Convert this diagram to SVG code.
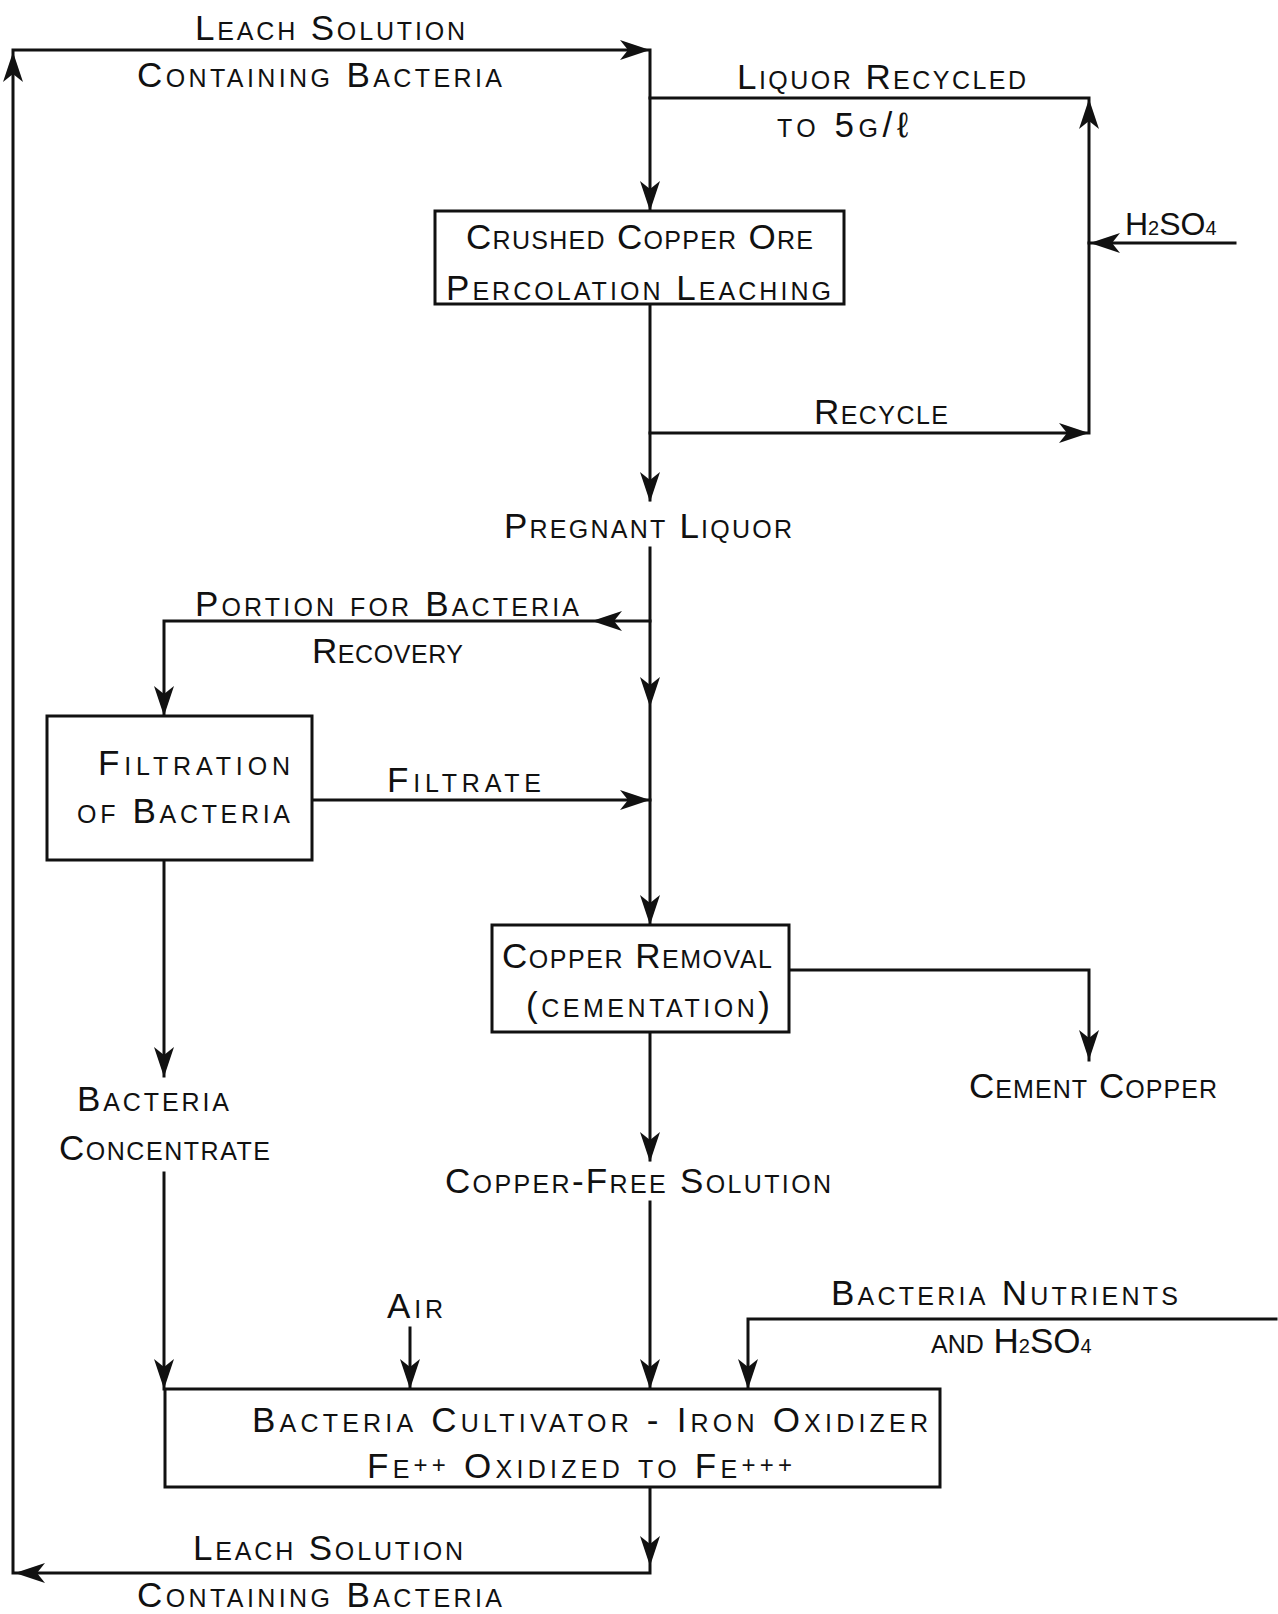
<svg xmlns="http://www.w3.org/2000/svg" xmlns:xlink="http://www.w3.org/1999/xlink" width="1278" height="1614" viewBox="0 0 1278 1614">
<style>
  .ln { fill: none; stroke: #111; stroke-width: 3; stroke-linejoin: miter; stroke-linecap: square; }
  .box { fill: #fff; stroke: #111; stroke-width: 3; }
  .t { font-family: "Liberation Sans", "DejaVu Sans", sans-serif; font-size: 35px; font-variant: small-caps; fill: #111; }
  .sub { font-size: 20px; }
  .sup { font-size: 24px; }
  .ah { fill: #111; }
</style>
<defs>
  <path id="ah" class="ah" d="M0,0 L-10,-30 L0,-22 L10,-30 Z"/>
</defs>
<rect width="1278" height="1614" fill="#fff"/>

<g id="connectors">
  <path class="ln" d="M650,1487 V1573 H13 V50 H650 V211"/>
  <path class="ln" d="M650,98 H1089 V433 H650"/>
  <path class="ln" d="M1235,243 H1089"/>
  <path class="ln" d="M650,304 V500"/>
  <path class="ln" d="M650,548 V925"/>
  <path class="ln" d="M650,621 H164 V716"/>
  <path class="ln" d="M311,800 H650"/>
  <path class="ln" d="M650,1031 V1160"/>
  <path class="ln" d="M650,1202 V1389"/>
  <path class="ln" d="M787,970 H1089 V1060"/>
  <path class="ln" d="M164,859 V1076"/>
  <path class="ln" d="M164,1173 V1389"/>
  <path class="ln" d="M410,1328 V1389"/>
  <path class="ln" d="M1276,1319 H748 V1389"/>
  <!-- arrowheads -->
  <use href="#ah" transform="translate(650,50) rotate(-90)"/>
  <use href="#ah" transform="translate(650,211)"/>
  <use href="#ah" transform="translate(1089,99) rotate(180)"/>
  <use href="#ah" transform="translate(1090,243) rotate(90)"/>
  <use href="#ah" transform="translate(1089,433) rotate(-90)"/>
  <use href="#ah" transform="translate(650,502)"/>
  <use href="#ah" transform="translate(592,621) rotate(90)"/>
  <use href="#ah" transform="translate(164,716)"/>
  <use href="#ah" transform="translate(650,707)"/>
  <use href="#ah" transform="translate(650,800) rotate(-90)"/>
  <use href="#ah" transform="translate(650,925)"/>
  <use href="#ah" transform="translate(1089,1060)"/>
  <use href="#ah" transform="translate(650,1162)"/>
  <use href="#ah" transform="translate(164,1077)"/>
  <use href="#ah" transform="translate(164,1389)"/>
  <use href="#ah" transform="translate(410,1389)"/>
  <use href="#ah" transform="translate(650,1389)"/>
  <use href="#ah" transform="translate(748,1389)"/>
  <use href="#ah" transform="translate(650,1566)"/>
  <use href="#ah" transform="translate(15,1573) rotate(90)"/>
  <use href="#ah" transform="translate(13,52) rotate(180)"/>
  <!-- connector labels -->
  <text class="t" x="195" y="40" textLength="270" lengthAdjust="spacing">Leach Solution</text>
  <text class="t" x="137" y="87" textLength="365" lengthAdjust="spacing">Containing Bacteria</text>
  <text class="t" x="737" y="89" textLength="289" lengthAdjust="spacing">Liquor Recycled</text>
  <text class="t" x="777" y="137" textLength="131" lengthAdjust="spacing">to 5g/ℓ</text>
  <text class="t" x="814" y="424" textLength="134" lengthAdjust="spacing">Recycle</text>
  <text class="t" x="195" y="616" textLength="384" lengthAdjust="spacing">Portion for Bacteria</text>
  <text class="t" x="312" y="663" textLength="151" lengthAdjust="spacing">Recovery</text>
  <text class="t" x="387" y="792" textLength="154" lengthAdjust="spacing">Filtrate</text>
  <text class="t" x="193" y="1560" textLength="270" lengthAdjust="spacing">Leach Solution</text>
  <text class="t" x="137" y="1607" textLength="365" lengthAdjust="spacing">Containing Bacteria</text>
</g>

<g id="node-leaching">
  <rect class="box" x="435" y="211" width="409" height="93"/>
  <text class="t" x="466" y="249" textLength="347" lengthAdjust="spacing">Crushed Copper Ore</text>
  <text class="t" x="446" y="300" textLength="385" lengthAdjust="spacing">Percolation Leaching</text>
</g>

<g id="node-h2so4">
  <text class="t" x="1125" y="235" style="font-size:32px">H<tspan class="sub">2</tspan>SO<tspan class="sub">4</tspan></text>
</g>

<g id="node-pregnant">
  <text class="t" x="504" y="538" textLength="288" lengthAdjust="spacing">Pregnant Liquor</text>
</g>

<g id="node-filtration">
  <rect class="box" x="47" y="716" width="265" height="144"/>
  <text class="t" x="98" y="775" textLength="192" lengthAdjust="spacing">Filtration</text>
  <text class="t" x="77" y="823" textLength="213" lengthAdjust="spacing">of Bacteria</text>
</g>

<g id="node-copper-removal">
  <rect class="box" x="492" y="925" width="297" height="107"/>
  <text class="t" x="502" y="968" textLength="270" lengthAdjust="spacing">Copper Removal</text>
  <text class="t" x="526" y="1017" textLength="244" lengthAdjust="spacing">(cementation)</text>
</g>

<g id="node-cement-copper">
  <text class="t" x="969" y="1098" textLength="248" lengthAdjust="spacing">Cement Copper</text>
</g>

<g id="node-bacteria-concentrate">
  <text class="t" x="77" y="1111" textLength="152" lengthAdjust="spacing">Bacteria</text>
  <text class="t" x="59" y="1160" textLength="211" lengthAdjust="spacing">Concentrate</text>
</g>

<g id="node-copper-free">
  <text class="t" x="445" y="1193" textLength="386" lengthAdjust="spacing">Copper-Free Solution</text>
</g>

<g id="node-air">
  <text class="t" x="387" y="1318" textLength="56" lengthAdjust="spacing">Air</text>
</g>

<g id="node-nutrients">
  <text class="t" x="831" y="1305" textLength="347" lengthAdjust="spacing">Bacteria Nutrients</text>
  <text class="t" x="931" y="1353">and H<tspan class="sub">2</tspan>SO<tspan class="sub">4</tspan></text>
</g>

<g id="node-cultivator">
  <rect class="box" x="165" y="1389" width="775" height="98"/>
  <text class="t" x="252" y="1432" textLength="676" lengthAdjust="spacing">Bacteria Cultivator - Iron Oxidizer</text>
  <text class="t" x="367" y="1478" textLength="425" lengthAdjust="spacing">Fe<tspan class="sup" dy="-5">++</tspan><tspan dy="5"> Oxidized to Fe</tspan><tspan class="sup" dy="-5">+++</tspan></text>
</g>
</svg>
